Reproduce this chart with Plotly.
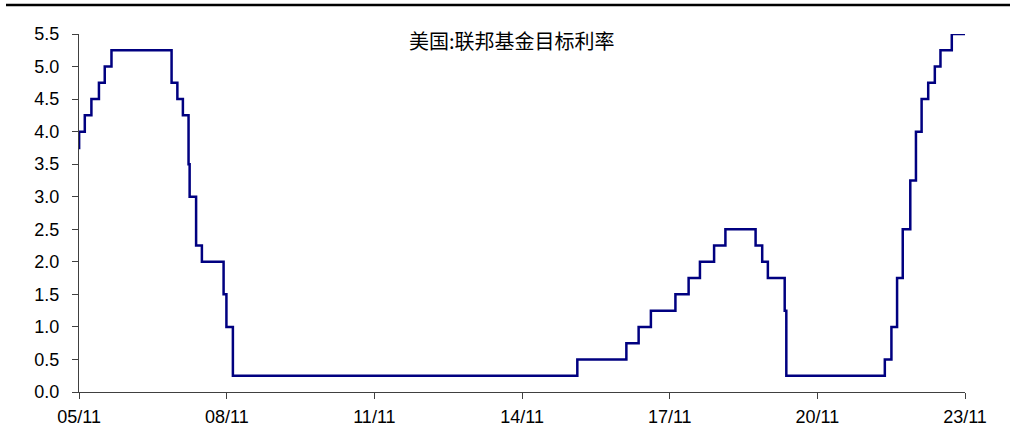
import plotly.graph_objects as go

# Federal funds target rate (upper bound after 2008), effective dates of changes
dates = [
    "2005-10-31", "2005-11-01", "2005-12-13", "2006-01-31", "2006-03-28", "2006-05-10",
    "2006-06-29", "2007-09-18", "2007-10-31", "2007-12-11", "2008-01-22", "2008-01-30",
    "2008-03-18", "2008-04-30", "2008-10-08", "2008-10-29", "2008-12-16", "2015-12-16",
    "2016-12-14", "2017-03-15", "2017-06-14", "2017-12-13", "2018-03-21", "2018-06-13",
    "2018-09-26", "2018-12-19", "2019-07-31", "2019-09-18", "2019-10-30", "2020-03-03",
    "2020-03-15", "2022-03-16", "2022-05-04", "2022-06-15", "2022-07-27", "2022-09-21",
    "2022-11-02", "2022-12-14", "2023-02-01", "2023-03-22", "2023-05-03", "2023-07-26",
    "2023-11-01",
]
rates = [
    3.75, 4.00, 4.25, 4.50, 4.75, 5.00,
    5.25, 4.75, 4.50, 4.25, 3.50, 3.00,
    2.25, 2.00, 1.50, 1.00, 0.25, 0.50,
    0.75, 1.00, 1.25, 1.50, 1.75, 2.00,
    2.25, 2.50, 2.25, 2.00, 1.75, 1.25,
    0.25, 0.50, 1.00, 1.75, 2.50, 3.25,
    4.00, 4.50, 4.75, 5.00, 5.25, 5.50,
    5.50,
]

tick_dates = ["2005-11-01", "2008-11-01", "2011-11-01", "2014-11-01",
              "2017-11-01", "2020-11-01", "2023-11-01"]
tick_labels = ["05/11", "08/11", "11/11", "14/11", "17/11", "20/11", "23/11"]
title_text = "美国:联邦基金目标利率"

W, H = 1025, 430
L, R, T, B = 79, 60, 34, 38
plot_w = W - L - R
plot_h = H - T - B

fig = go.Figure()
fig.add_trace(go.Scatter(
    x=dates, y=rates, mode="lines",
    line=dict(color="#000080", width=2.5, shape="hv"),
    hoverinfo="x+y", showlegend=False,
))

axis_font = dict(family="Liberation Sans, Arial, sans-serif", size=18, color="#000000")

fig.update_layout(
    width=W, height=H,
    margin=dict(l=L, r=R, t=T, b=B),
    paper_bgcolor="white", plot_bgcolor="white",
    xaxis=dict(
        type="date", range=["2005-10-31", "2023-11-01"], automargin=False,
        tickmode="array", tickvals=tick_dates, ticktext=tick_labels,
        showgrid=False, zeroline=False,
        showline=True, linecolor="#404040", linewidth=1,
        ticks="outside", ticklen=6, tickcolor="#404040",
        tickfont=axis_font, ticklabelstandoff=2,
    ),
    yaxis=dict(
        range=[0, 5.5], dtick=0.5, tickformat=".1f", automargin=False,
        showgrid=False, zeroline=False,
        showline=True, linecolor="#404040", linewidth=1,
        ticks="outside", ticklen=6, tickcolor="#404040",
        tickfont=axis_font, ticklabelstandoff=9,
    ),
    annotations=[dict(
        text=title_text,
        x=(512 - L) / plot_w, y=1 - (40 - T) / plot_h,
        xref="paper", yref="paper",
        xanchor="center", yanchor="middle", showarrow=False,
        font=dict(family="Noto Sans CJK SC, sans-serif", size=20, color="#000000"),
    )],
    shapes=[dict(
        type="line", xref="paper", yref="paper",
        x0=(6 - L) / plot_w, x1=(1010 - L) / plot_w,
        y0=1 + (T - 5) / plot_h, y1=1 + (T - 5) / plot_h,
        line=dict(color="#000000", width=2.5),
    )],
)

fig.write_html("out.html")
